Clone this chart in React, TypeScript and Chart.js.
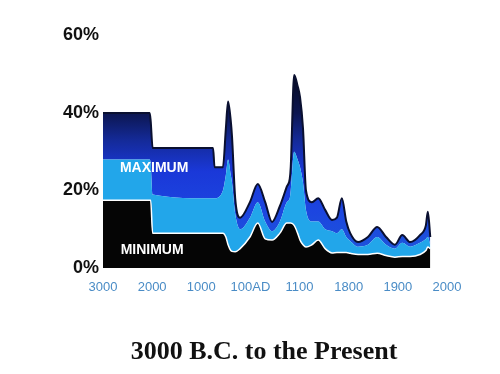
import React, { useEffect, useRef } from "react";
import { Chart, registerables } from "chart.js";

Chart.register(...registerables);

// x positions are on the chart's own (non-linear) era axis: 0 = 3000 B.C., 1 = 2000 B.C., ... 7 = 2000 AD
const xLabels = ["3000", "2000", "1000", "100AD", "1100", "1800", "1900", "2000"];
const yTicks = [0, 20, 40, 60];

const xPositions = [
  0.0, 0.95, 0.97, 1.01, 2.24, 2.27, 2.44, 2.5, 2.545, 2.6, 2.625, 2.69, 2.79, 2.99, 3.15, 3.3,
  3.44, 3.6, 3.74, 3.8, 3.82, 3.89, 3.96, 4.01, 4.07, 4.13, 4.25, 4.38, 4.52, 4.66, 4.76, 4.86,
  4.95, 5.03, 5.19, 5.39, 5.58, 5.76, 5.94, 6.09, 6.25, 6.45, 6.57, 6.61, 6.66,
];
const maximum = [
  40, 40, 38, 31, 31, 26, 26, 36, 43, 38, 34, 18, 13, 17, 21.7, 17,
  11.9, 16, 21, 23, 26, 49.8, 47, 44, 36, 20, 17, 18, 15, 12.4, 13, 18,
  12, 9, 6.7, 8, 10.6, 8, 6, 8.5, 6.7, 8.5, 11, 14.5, 8,
];
const middle = [
  28, 28, 27, 19, 18, 18, 20, 24, 28, 24, 22, 14, 10, 13, 17, 12,
  9.5, 12, 17, 18, 20, 30, 28, 26, 22, 15, 12, 12, 10, 9.5, 9, 10,
  8, 7, 5.5, 6, 8, 6, 5, 6.5, 5.5, 6.5, 7.5, 8, 6,
];
const minimum = [
  17.5, 17.5, 17.5, 9, 9, 9, 9, 8, 6, 4.5, 4.3, 4.2, 5, 8, 11.6, 7.5,
  7.2, 9, 11.6, 11.6, 11.6, 11, 9, 7.2, 6, 5.4, 6, 7.2, 5, 3.9, 4, 4,
  4, 3.8, 3.5, 3.5, 3.8, 3.2, 2.8, 3, 3, 3.5, 4.5, 5.4, 5,
];

const toPoints = (vals: number[]) => vals.map((v, i) => ({ x: xPositions[i], y: v }));

export default function App() {
  const ref = useRef<HTMLCanvasElement | null>(null);

  useEffect(() => {
    document.body.style.margin = "0";
    const canvas = ref.current;
    if (!canvas) return;

    const labelsPlugin = {
      id: "bandLabels",
      afterDatasetsDraw(chart: any) {
        const { ctx, scales } = chart;
        const xs = scales.x;
        const ys = scales.y;
        ctx.save();
        ctx.fillStyle = "#ffffff";
        ctx.font = "bold 14px 'Liberation Sans', Arial, sans-serif";
        ctx.textAlign = "center";
        ctx.textBaseline = "middle";
        ctx.fillText("MAXIMUM", xs.getPixelForValue(1.04), ys.getPixelForValue(25.8));
        ctx.fillText("MINIMUM", xs.getPixelForValue(1.0), ys.getPixelForValue(4.6));
        ctx.restore();
      },
      afterDraw(chart: any) {
        const { ctx } = chart;
        ctx.save();
        ctx.fillStyle = "#111111";
        ctx.font = "bold 26px 'Liberation Serif', 'Times New Roman', serif";
        ctx.textAlign = "center";
        ctx.textBaseline = "middle";
        ctx.fillText("3000 B.C. to the Present", 264, 352);
        ctx.restore();
      },
    };

    const maxFill = (c: any) => {
      const chart = c.chart;
      const area = chart.chartArea;
      if (!area) return "#1a40e0";
      const ys = chart.scales.y;
      const g = chart.ctx.createLinearGradient(0, ys.getPixelForValue(0), 0, ys.getPixelForValue(50));
      g.addColorStop(0, "#1d5ad8");
      g.addColorStop(0.3, "#1c45e0");
      g.addColorStop(0.5, "#1a38d8");
      g.addColorStop(0.66, "#142a98");
      g.addColorStop(0.8, "#0c1650");
      g.addColorStop(1, "#060a20");
      return g;
    };

    const chart = new Chart(canvas, {
      type: "line",
      data: {
        datasets: [
          {
            label: "Minimum",
            data: toPoints(minimum),
            fill: "origin",
            backgroundColor: "#050505",
            borderColor: "#ffffff",
            borderWidth: 1.5,
            pointRadius: 0,
            tension: 0.3,
            cubicInterpolationMode: "monotone",
          },
          {
            label: "Middle",
            data: toPoints(middle),
            fill: "-1",
            backgroundColor: "#22a6ea",
            borderColor: "rgba(0,0,0,0)",
            borderWidth: 0,
            pointRadius: 0,
            tension: 0.3,
            cubicInterpolationMode: "monotone",
          },
          {
            label: "Maximum",
            data: toPoints(maximum),
            fill: "-1",
            backgroundColor: maxFill,
            borderColor: "#0a1030",
            borderWidth: 2,
            pointRadius: 0,
            tension: 0.3,
            cubicInterpolationMode: "monotone",
          },
        ],
      },
      options: {
        responsive: false,
        animation: false,
        layout: { padding: { top: 35.5, right: 53, left: 0, bottom: 0 } },
        plugins: {
          legend: { display: false },
          tooltip: { enabled: false },
          title: { display: false },
        },
        scales: {
          x: {
            type: "linear",
            min: 0,
            max: 7,
            grid: { display: false, drawTicks: false },
            border: { display: false },
            afterBuildTicks: (s: any) => {
              s.ticks = xLabels.map((_, i) => ({ value: i }));
            },
            afterFit: (s: any) => {
              s.height = 106;
            },
            ticks: {
              padding: 12,
              color: "#4a8cc6",
              font: { size: 13, family: "'Liberation Sans', Arial, sans-serif" },
              maxRotation: 0,
              autoSkip: false,
              callback: (v: any) => xLabels[Math.round(Number(v))] ?? "",
            },
          },
          y: {
            min: 0,
            max: 60,
            grid: { display: false, drawTicks: false },
            border: { display: false },
            afterBuildTicks: (s: any) => {
              s.ticks = yTicks.map((v) => ({ value: v }));
            },
            afterFit: (s: any) => {
              s.width = 103;
            },
            ticks: {
              padding: 4,
              color: "#111111",
              font: { size: 18, weight: "bold", family: "'Liberation Sans', Arial, sans-serif" },
              callback: (v: any) => v + "%",
            },
          },
        },
      },
      plugins: [labelsPlugin],
    });

    return () => chart.destroy();
  }, []);

  return <canvas ref={ref} width={500} height={374} style={{ display: "block" }} />;
}
